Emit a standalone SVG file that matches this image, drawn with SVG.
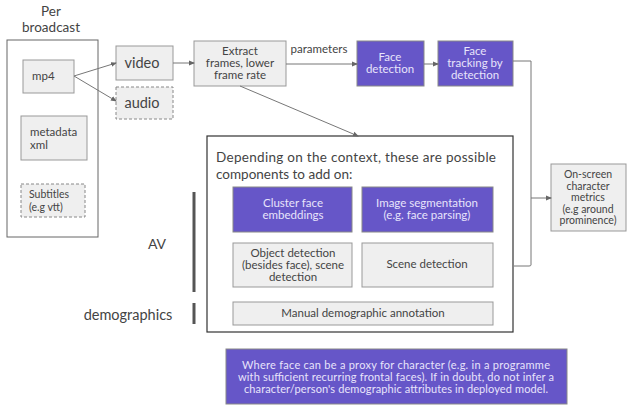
<svg xmlns="http://www.w3.org/2000/svg" width="632" height="405" viewBox="0 0 632 405">
  <defs>
    <marker id="arr" markerWidth="6" markerHeight="6" refX="5" refY="3" orient="auto" markerUnits="userSpaceOnUse">
      <path d="M0,0.5 L6,3 L0,5.5 Z" fill="#666"/>
    </marker>
    <style>
      text { font-family: "Lato", "Open Sans", sans-serif; fill: #444; }
      .box { fill: #efefef; stroke: #999; stroke-width: 1; }
      .dash { fill: #efefef; stroke: #888; stroke-width: 1; stroke-dasharray: 3 2; }
      .frame { fill: #fff; stroke: #666; stroke-width: 1; }
      .big { fill: #fff; stroke: #333; stroke-width: 1.2; }
      .purple { fill: #6656c8; stroke: #888; stroke-width: 1; }
      .pt { fill: #e8e4fb; }
      .c { text-anchor: middle; }
      .s11 { font-size: 11.5px; }
      .s10 { font-size: 10.5px; }
      .conn { stroke: #777; stroke-width: 1; fill: none; }
      .bar { stroke: #555; stroke-width: 3; }
    </style>
  </defs>

  <!-- per-broadcast inputs -->
  <g id="broadcast">
    <text class="c" x="51" y="16" font-size="13.5">Per</text>
    <text class="c" x="51" y="32" font-size="13.5">broadcast</text>
    <rect class="frame" x="7" y="40" width="91" height="197"/>
  </g>
  <g id="mp4">
    <rect class="box" x="23" y="60" width="51" height="33"/>
    <text class="s11" x="32" y="80">mp4</text>
  </g>
  <g id="metadata">
    <rect class="box" x="21" y="116" width="66" height="44"/>
    <text class="s11" x="30" y="136">metadata</text>
    <text class="s11" x="30" y="149">xml</text>
  </g>
  <g id="subtitles">
    <rect class="dash" x="21" y="184" width="64" height="33"/>
    <text class="s10" x="29" y="198">Subtitles</text>
    <text class="s10" x="29" y="211">(e.g vtt)</text>
  </g>

  <!-- streams -->
  <g id="video">
    <rect class="box" x="116" y="46" width="57" height="34"/>
    <text class="c" x="142" y="68" font-size="14.5">video</text>
  </g>
  <g id="audio">
    <rect class="dash" x="116" y="87" width="57" height="32"/>
    <text class="c" x="142" y="108" font-size="14.5">audio</text>
  </g>

  <!-- frame pipeline -->
  <g id="extract">
    <rect class="box" x="194" y="41" width="92" height="45"/>
    <text class="c s11" x="240" y="55">Extract</text>
    <text class="c s11" x="240" y="67">frames, lower</text>
    <text class="c s11" x="240" y="79">frame rate</text>
  </g>
  <g id="face-detection">
    <rect class="purple" x="357" y="41" width="67" height="45"/>
    <text class="c s11 pt" x="390" y="61">Face</text>
    <text class="c s11 pt" x="390" y="73">detection</text>
  </g>
  <g id="face-tracking">
    <rect class="purple" x="438" y="41" width="75" height="45"/>
    <text class="c s11 pt" x="475" y="55">Face</text>
    <text class="c s11 pt" x="475" y="67">tracking by</text>
    <text class="c s11 pt" x="475" y="79">detection</text>
  </g>

  <!-- optional components -->
  <g id="addons">
    <rect class="big" x="207" y="136" width="306" height="196"/>
    <text x="216" y="162" font-size="13.5" textLength="280" lengthAdjust="spacing">Depending on the context, these are possible</text>
    <text x="216" y="178.5" font-size="13.5">components to add on:</text>
  </g>
  <g id="cluster">
    <rect class="purple" x="233" y="187" width="119" height="45"/>
    <text class="c s11 pt" x="293" y="207">Cluster face</text>
    <text class="c s11 pt" x="293" y="219">embeddings</text>
  </g>
  <g id="segmentation">
    <rect class="purple" x="362" y="187" width="131" height="45"/>
    <text class="c s11 pt" x="427" y="207">Image segmentation</text>
    <text class="c s11 pt" x="427" y="219">(e.g. face parsing)</text>
  </g>
  <g id="object-detection">
    <rect class="box" x="233" y="243" width="119" height="44"/>
    <text class="c s11" x="293" y="257">Object detection</text>
    <text class="c s11" x="293" y="269">(besides face), scene</text>
    <text class="c s11" x="293" y="281">detection</text>
  </g>
  <g id="scene-detection">
    <rect class="box" x="362" y="243" width="131" height="44"/>
    <text class="c s11" x="427" y="268">Scene detection</text>
  </g>
  <g id="manual-annotation">
    <rect class="box" x="233" y="302" width="260" height="23"/>
    <text class="c s11" x="363" y="317">Manual demographic annotation</text>
  </g>

  <!-- side labels -->
  <g id="av">
    <line class="bar" x1="194" y1="192" x2="194" y2="292"/>
    <text class="c" x="157" y="249" font-size="14">AV</text>
  </g>
  <g id="demographics">
    <line class="bar" x1="194" y1="303" x2="194" y2="324"/>
    <text class="c" x="128" y="320" font-size="14.5">demographics</text>
  </g>

  <g id="metrics">
    <rect class="box" x="551" y="164" width="75" height="67"/>
    <text class="c s10" x="588" y="178">On-screen</text>
    <text class="c s10" x="588" y="190">character</text>
    <text class="c s10" x="588" y="201">metrics</text>
    <text class="c s10" x="588" y="213">(e.g around</text>
    <text class="c s10" x="588" y="224">prominence)</text>
  </g>

  <g id="note">
    <rect class="purple" x="226" y="349" width="341" height="55"/>
    <text class="c pt" x="396" y="369" font-size="11" textLength="308" lengthAdjust="spacing">Where face can be a proxy for character (e.g. in a programme</text>
    <text class="c pt" x="396" y="381" font-size="11" textLength="316" lengthAdjust="spacing">with sufficient recurring frontal faces). If in doubt, do not infer a</text>
    <text class="c pt" x="396" y="393" font-size="11" textLength="304" lengthAdjust="spacing">character/person's demographic attributes in deployed model.</text>
  </g>

  <!-- connectors -->
  <g id="connectors">
    <line class="conn" x1="74" y1="76" x2="116" y2="63" marker-end="url(#arr)"/>
    <line class="conn" x1="74" y1="76" x2="116" y2="101" marker-end="url(#arr)"/>
    <line class="conn" x1="173" y1="63" x2="194" y2="63" marker-end="url(#arr)"/>
    <line class="conn" x1="286" y1="64" x2="357" y2="64" marker-end="url(#arr)"/>
    <text class="c s11" x="319" y="53">parameters</text>
    <line class="conn" x1="424" y1="64" x2="438" y2="64" marker-end="url(#arr)"/>
    <line class="conn" x1="240" y1="86" x2="358" y2="136" marker-end="url(#arr)"/>
    <path class="conn" d="M513,61 H531 V265 Q531,266 529,266 H514"/>
    <line class="conn" x1="531" y1="198" x2="551" y2="198" marker-end="url(#arr)"/>
  </g>
</svg>
